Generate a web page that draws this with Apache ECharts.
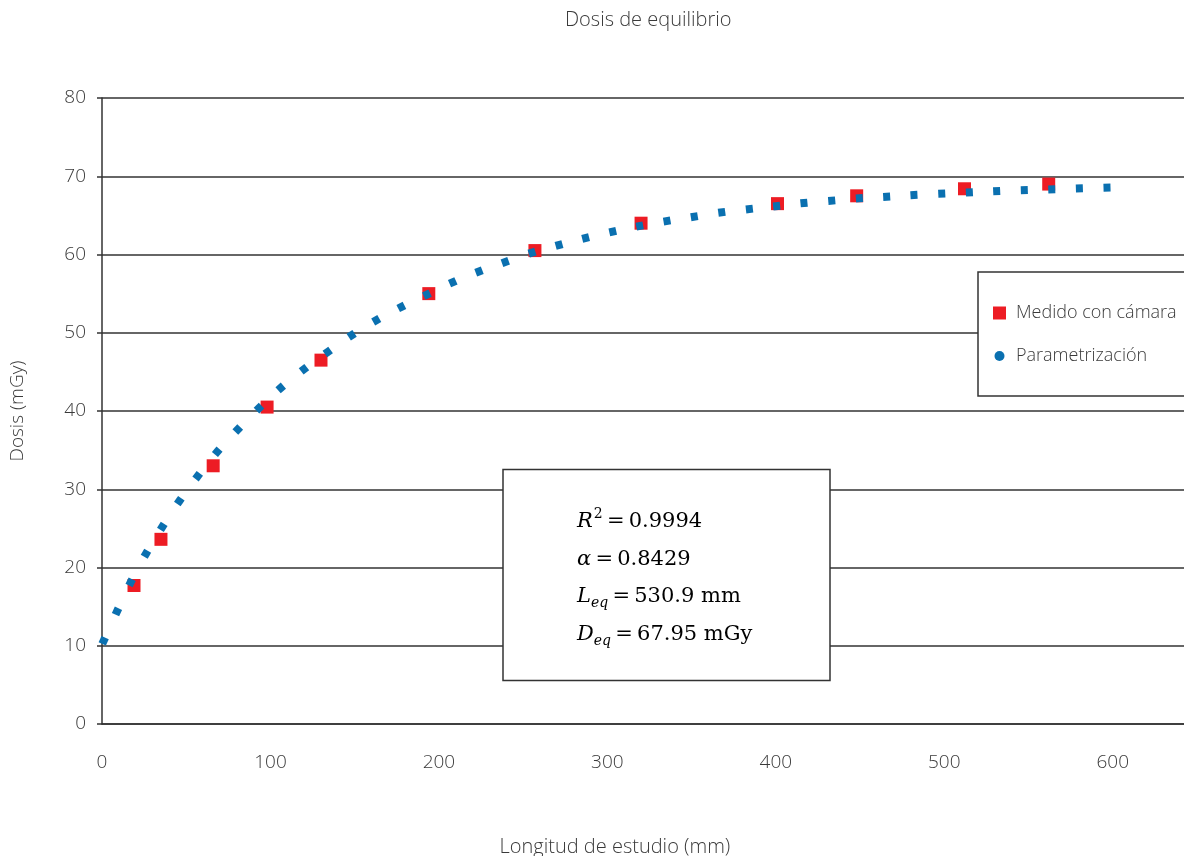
<!DOCTYPE html>
<html>
<head>
<meta charset="utf-8">
<script src="https://cdn.jsdelivr.net/npm/echarts@6/dist/echarts.min.js"></script>
<style>
html,body{margin:0;padding:0;background:#fff;}
#chart{width:1184px;height:856px;}
</style>
</head>
<body>
<div id="chart"></div>
<script>
// Measured points (mm, mGy)
const measuredLength = [19, 35, 66, 98, 130, 194, 257, 320, 401, 448, 512, 562];
const measuredDose   = [17.7, 23.6, 33.0, 40.5, 46.5, 55.0, 60.5, 64.0, 66.5, 67.5, 68.4, 69.0];

// Parametrization curve (dot positions)
const fitLength = [1.0, 8.9, 17.0, 26.1, 35.8, 45.9, 56.8, 68.4, 80.6, 93.2, 106.1, 119.9, 134.0, 148.2,
  162.8, 177.7, 192.9, 208.2, 223.8, 239.4, 255.3, 271.3, 287.1, 303.2, 319.2, 335.4, 351.6, 367.9,
  384.3, 400.5, 416.7, 433.2, 449.6, 465.8, 482.0, 498.5, 514.9, 531.1, 547.5, 563.8, 580.2, 596.6];
const fitDose = [10.64, 14.39, 18.10, 21.75, 25.20, 28.48, 31.67, 34.78, 37.64, 40.36, 42.95, 45.34, 47.55, 49.68,
  51.60, 53.30, 54.88, 56.45, 57.82, 59.04, 60.24, 61.21, 62.11, 62.93, 63.64, 64.28, 64.84, 65.39,
  65.81, 66.19, 66.58, 66.88, 67.18, 67.39, 67.60, 67.78, 67.94, 68.11, 68.24, 68.33, 68.45, 68.54];

const seriesNames = ['Medido con cámara', 'Parametrización'];
const titleText = 'Dosis de equilibrio';
const xAxisName = 'Longitud de estudio (mm)';
const yAxisName = 'Dosis (mGy)';
const statLines = [
  '{i|R}{sup|2}{n|\u2009=\u20090.9994}',
  '{i|α}{n|\u2009=\u20090.8429}',
  '{i|L}{sub|eq}{n|\u2009=\u2009530.9 mm}',
  '{i|D}{sub|eq}{n|\u2009=\u200967.95 mGy}'
];

const FONT = "'Open Sans', 'Liberation Sans', sans-serif";
const SERIF = "'DejaVu Serif', 'Liberation Serif', serif";
const TXT = '#3a3a3a';
const RED = '#ed1c24';
const BLUE = '#0a70b0';

const richStyles = {
  i:   {fontFamily: SERIF, fontStyle: 'italic', fontSize: 21, lineHeight: 38, color: '#1a1a1a'},
  n:   {fontFamily: SERIF, fontSize: 21, lineHeight: 38, color: '#1a1a1a'},
  sup: {fontFamily: SERIF, fontSize: 14, lineHeight: 14, verticalAlign: 'top', padding: [5, 0, 0, 1], color: '#1a1a1a'},
  sub: {fontFamily: SERIF, fontStyle: 'italic', fontSize: 14, lineHeight: 14, verticalAlign: 'bottom', padding: [0, 0, 6, 0], color: '#1a1a1a'}
};

const statCenters = [521.7, 560, 597, 635];

const option = {
  animation: false,
  backgroundColor: '#fff',
  title: {
    text: titleText, left: 565, top: 10, padding: 0,
    textStyle: {fontFamily: FONT, fontSize: 20, fontWeight: 300, color: TXT}
  },
  grid: {left: 102, top: 98, width: 1111.8, height: 626, containLabel: false, outerBoundsMode: 'none'},
  legend: {
    orient: 'vertical', left: 978, top: 272,
    padding: [32, 30, 31, 15], itemGap: 25, itemWidth: 13, itemHeight: 13,
    backgroundColor: '#fff', borderColor: '#333', borderWidth: 1.5, borderRadius: 0,
    textStyle: {fontFamily: FONT, fontSize: 18, fontWeight: 300, color: TXT, padding: [0, 0, 0, 5]},
    data: [
      {name: seriesNames[0], icon: 'rect', itemStyle: {color: RED, borderWidth: 0, opacity: 1}},
      {name: seriesNames[1], icon: 'path://M0,0M13,13M1.5,6.5A5,5,0,1,1,11.5,6.5A5,5,0,1,1,1.5,6.5Z',
       itemStyle: {color: BLUE, borderWidth: 0, opacity: 1}}
    ]
  },
  xAxis: {
    type: 'value', min: 0, max: 660, interval: 100,
    name: xAxisName, nameLocation: 'middle', nameGap: 113,
    nameTextStyle: {fontFamily: FONT, fontSize: 20, fontWeight: 300, color: TXT, padding: [0, 86, 0, 0]},
    axisLine: {show: true, lineStyle: {color: '#333', width: 1.5}},
    axisTick: {show: false},
    axisLabel: {fontFamily: FONT, fontSize: 19, fontWeight: 300, color: TXT, margin: 29, showMaxLabel: false},
    splitLine: {show: false}
  },
  yAxis: {
    type: 'value', min: 0, max: 80, interval: 10,
    name: yAxisName, nameLocation: 'middle', nameGap: 75,
    nameTextStyle: {fontFamily: FONT, fontSize: 19, fontWeight: 300, color: TXT},
    axisLine: {show: true, lineStyle: {color: '#333', width: 1.5}},
    axisTick: {show: true, length: 5, lineStyle: {color: '#333', width: 1.5}},
    axisLabel: {fontFamily: FONT, fontSize: 19, fontWeight: 300, color: TXT, margin: 16},
    splitLine: {show: true, lineStyle: {color: '#333', width: 1.5}}
  },
  series: [
    {
      name: seriesNames[0], type: 'scatter', symbol: 'rect', symbolSize: 13,
      itemStyle: {color: RED, opacity: 1}, z: 3, silent: true,
      data: measuredLength.map((x, i) => [x, measuredDose[i]])
    },
    {
      name: seriesNames[1], type: 'scatter', symbol: 'rect', symbolSize: [7, 8],
      itemStyle: {color: BLUE, opacity: 1}, z: 4, silent: true,
      data: fitLength.map((x, i) => [x, fitDose[i]])
    }
  ],
  graphic: [
    {type: 'rect', z: 100, shape: {x: 503, y: 469.5, width: 327, height: 211},
     style: {fill: '#fff', stroke: '#333', lineWidth: 1.5}}
  ].concat(statLines.map((t, k) => ({
    type: 'text', z: 101, x: 577, y: statCenters[k],
    style: {text: t, rich: richStyles, verticalAlign: 'middle', align: 'left'}
  })))
};

const chart = echarts.init(document.getElementById('chart'), null, {renderer: 'canvas'});
chart.setOption(option);

// orient each dot of the parametrization along the curve
const px = fitLength.map((x, i) => chart.convertToPixel({gridIndex: 0}, [x, fitDose[i]]));
const oriented = fitLength.map((x, i) => {
  const a = px[Math.max(i - 1, 0)], b = px[Math.min(i + 1, px.length - 1)];
  const ang = Math.atan2(a[1] - b[1], b[0] - a[0]) * 180 / Math.PI;
  return {value: [x, fitDose[i]], symbolRotate: ang};
});
chart.setOption({series: [{}, {data: oriented}]});
</script>
</body>
</html>
